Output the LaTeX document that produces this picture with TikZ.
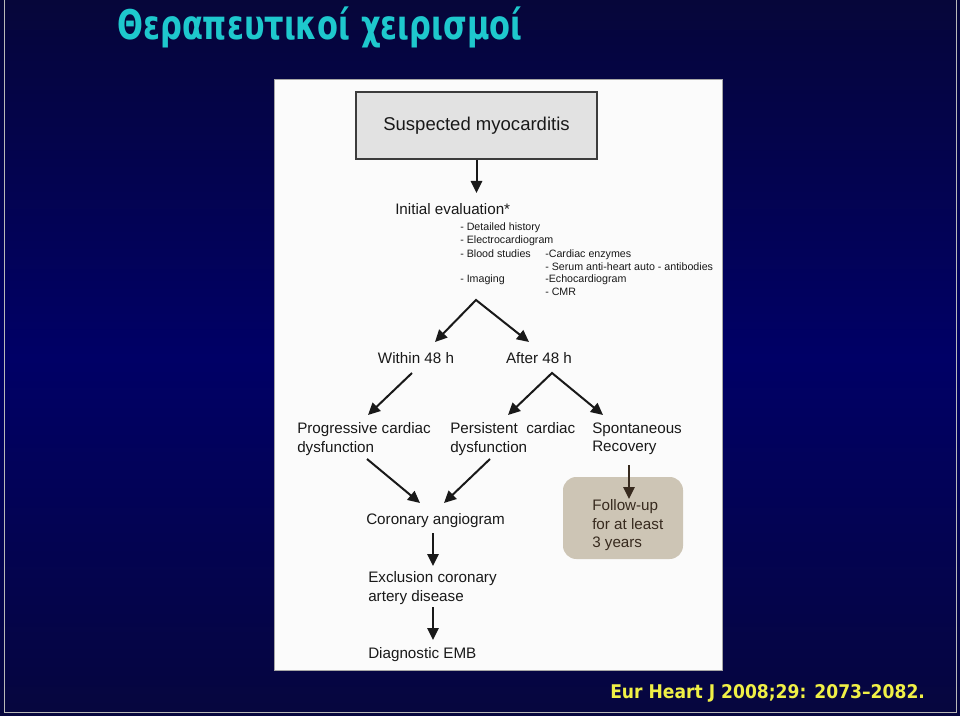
\documentclass[tikz,border=0pt]{standalone}
\usepackage{fontspec}
\usepackage{graphicx}
\setmainfont{Liberation Sans}
\newfontfamily\titlefont{DejaVu Sans}
\usetikzlibrary{arrows.meta}
\definecolor{bgtop}{RGB}{6,6,58}
\definecolor{bgmid}{RGB}{0,0,102}
\definecolor{bgbot}{RGB}{6,6,62}
\definecolor{titlecyan}{RGB}{30,200,205}
\definecolor{citeyellow}{RGB}{240,240,70}
\definecolor{ink}{RGB}{25,25,25}
\definecolor{boxgrey}{RGB}{226,226,226}
\definecolor{tanbox}{RGB}{205,197,181}
\definecolor{darkbrown}{RGB}{55,42,30}
\definecolor{panelwhite}{RGB}{251,251,251}
\begin{document}
\begin{tikzpicture}[x=0.75pt,y=-0.75pt,
  arr/.style={draw=ink, line width=1.5pt, line join=miter, -{Triangle[length=9pt,width=8.5pt]}},
  arrtwo/.style={draw=ink, line width=1.5pt, line join=miter, {Triangle[length=9pt,width=8.5pt]}-{Triangle[length=9pt,width=8.5pt]}},
  txt/.style={font=\fontsize{11.4pt}{13.9pt}\selectfont, text=ink, inner sep=0pt, align=left},
  small/.style={font=\fontsize{8pt}{9.75pt}\selectfont, text=ink, inner sep=0pt, anchor=base west},
]
\useasboundingbox (0,0) rectangle (960,716);
\shade[top color=bgtop, bottom color=bgbot, middle color=bgmid] (0,0) rectangle (960,716);
\draw[gray!55, line width=0.75pt] (4,-5) -- (4,712.5) -- (956,712.5) -- (956,-5);
% panel
\filldraw[fill=panelwhite, draw=gray!70, line width=0.75pt] (274,80) rectangle (722,670);
% title and citation
\node[anchor=base west, inner sep=0pt, text=titlecyan] (title) at (117,40)
  {\resizebox{303.75pt}{24.5pt}{\titlefont\bfseries Θεραπευτικοί χειρισμοί}};
\node[anchor=base west, inner sep=0pt, text=citeyellow] (cite) at (610,698.5)
  {\resizebox{236pt}{10.5pt}{\titlefont\bfseries Eur Heart J 2008;29: 2073–2082.}};
% nodes
\node[draw=ink!85, line width=1.2pt, fill=boxgrey, minimum width=180.75pt, minimum height=50.25pt,
  font=\fontsize{13.9pt}{16pt}\selectfont, text=ink] (susp) at (476.5,125.5) {Suspected myocarditis};
\node[txt, anchor=base west] (init) at (395,215) {Initial evaluation*};
\node[small] (l1) at (460,231) {- Detailed history};
\node[small] (l2) at (460,244) {- Electrocardiogram};
\node[small] (l3) at (460,258) {- Blood studies};
\node[small] (l4) at (460,283) {- Imaging};
\node[small] (r1) at (545,258) {-Cardiac enzymes};
\node[small] (r2) at (545,271) {- Serum anti-heart auto - antibodies};
\node[small] (r3) at (545,283) {-Echocardiogram};
\node[small] (r4) at (545,296) {- CMR};
\node[txt, anchor=base] (within) at (416,364) {Within 48 h};
\node[txt, anchor=base] (after) at (539,364) {After 48 h};
\node[txt, anchor=west] (prog) at (297,439) {Progressive cardiac\\dysfunction};
\node[txt, anchor=west] (pers) at (450,439) {Persistent\ \ cardiac\\dysfunction};
\node[txt, anchor=west] (spont) at (592,439) {Spontaneous\\Recovery};
\node[txt, anchor=base west] (coro) at (366,524) {Coronary angiogram};
\node[txt, anchor=west] (excl) at (368,588) {Exclusion coronary\\artery disease};
\node[txt, anchor=base west] (emb) at (368,658) {Diagnostic EMB};
\node[fill=tanbox, rounded corners=10pt, minimum width=90pt, minimum height=61.5pt, inner sep=0pt] (follow) at (623,518) {};
\node[txt, text=darkbrown, anchor=west] (ftxt) at (592,525.5) {Follow-up\\for at least\\3 years};
% connector points
\coordinate (a0) at (476.5,193);
\coordinate (sp1) at (476,300);
\coordinate (t1) at (435,342);
\coordinate (t2) at (529,342);
\coordinate (w0) at (412,373);
\coordinate (w1) at (368,415);
\coordinate (sp2) at (552,373);
\coordinate (t3) at (508,415);
\coordinate (t4) at (603,415);
\coordinate (p0) at (367,459);
\coordinate (p1) at (420,503);
\coordinate (q0) at (490,459);
\coordinate (q1) at (444,503);
\coordinate (c0) at (433,533);
\coordinate (c1) at (433,566);
\coordinate (e0) at (433,607);
\coordinate (e1) at (433,640);
\coordinate (f0) at (629,465);
\coordinate (f1) at (629,499);
% connectors
\draw[arr] (susp.south) -- (a0);
\draw[arrtwo] (t1) -- (sp1) -- (t2);
\draw[arr] (w0) -- (w1);
\draw[arrtwo] (t3) -- (sp2) -- (t4);
\draw[arr] (p0) -- (p1);
\draw[arr] (q0) -- (q1);
\draw[arr] (c0) -- (c1);
\draw[arr] (e0) -- (e1);
\draw[arr, draw=darkbrown] (f0) -- (f1);
\end{tikzpicture}
\end{document}
